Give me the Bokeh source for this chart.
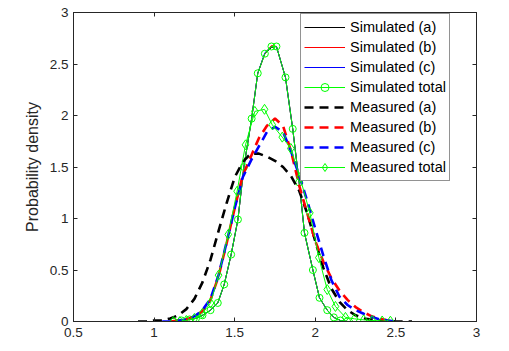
from bokeh.plotting import figure
from bokeh.models import (Range1d, FixedTicker, LinearAxis, Legend, LegendItem,
                          CustomJSTickFormatter)
from bokeh.embed import file_html
from bokeh.resources import INLINE

# ---------------- data ----------------
x_ticks = [0.5, 1, 1.5, 2, 2.5, 3]
y_ticks = [0, 0.5, 1, 1.5, 2, 2.5, 3]

sim_x = [1.12, 1.17, 1.22, 1.26, 1.30, 1.35, 1.395, 1.435, 1.478, 1.52, 1.557, 1.605,
         1.643, 1.687, 1.728, 1.759, 1.815, 1.86, 1.90, 1.933, 1.985, 2.026, 2.074,
         2.115, 2.156, 2.198]
sim_a = [0.00, 0.01, 0.02, 0.03, 0.06, 0.11, 0.18, 0.36, 0.65, 0.99, 1.50, 1.97,
         2.41, 2.60, 2.66, 2.67, 2.37, 1.87, 1.35, 0.86, 0.50, 0.23, 0.11, 0.04, 0.01, 0.00]
sim_b = [0.00, 0.01, 0.02, 0.03, 0.06, 0.11, 0.18, 0.36, 0.65, 0.99, 1.50, 1.97,
         2.41, 2.60, 2.68, 2.67, 2.37, 1.87, 1.35, 0.86, 0.50, 0.23, 0.11, 0.04, 0.01, 0.00]
sim_c = [0.00, 0.01, 0.02, 0.03, 0.06, 0.11, 0.18, 0.36, 0.65, 0.99, 1.50, 1.97,
         2.41, 2.61, 2.67, 2.67, 2.37, 1.87, 1.35, 0.86, 0.50, 0.23, 0.11, 0.04, 0.01, 0.00]
sim_total = [0.00, 0.01, 0.02, 0.03, 0.06, 0.11, 0.18, 0.36, 0.65, 0.99, 1.50, 1.97,
             2.41, 2.60, 2.67, 2.67, 2.37, 1.87, 1.35, 0.86, 0.50, 0.23, 0.11, 0.04, 0.01, 0.00]

meas_a_x = [0.90, 0.95, 1.00, 1.05, 1.10, 1.15, 1.20, 1.25, 1.30, 1.35, 1.40, 1.45,
            1.50, 1.55, 1.60, 1.65, 1.70, 1.75, 1.80, 1.85, 1.90, 1.95, 2.00, 2.05,
            2.10, 2.15, 2.20, 2.25, 2.30, 2.35, 2.40, 2.45, 2.50, 2.55, 2.60]
meas_a = [0.00, 0.00, 0.01, 0.01, 0.03, 0.06, 0.12, 0.22, 0.38, 0.60, 0.88, 1.15,
          1.40, 1.55, 1.63, 1.63, 1.60, 1.56, 1.50, 1.41, 1.27, 1.05, 0.78, 0.52,
          0.32, 0.19, 0.11, 0.06, 0.03, 0.02, 0.01, 0.01, 0.00, 0.00, 0.00]

meas_b_x = [1.10, 1.15, 1.20, 1.25, 1.30, 1.35, 1.40, 1.45, 1.50, 1.55, 1.60, 1.65,
            1.70, 1.75, 1.80, 1.85, 1.90, 1.95, 2.00, 2.05, 2.10, 2.15, 2.20, 2.25,
            2.30, 2.35, 2.40, 2.45, 2.50]
meas_b = [0.00, 0.01, 0.02, 0.05, 0.10, 0.21, 0.44, 0.76, 1.10, 1.42, 1.60, 1.78,
          1.90, 1.97, 1.90, 1.65, 1.32, 1.05, 0.78, 0.58, 0.42, 0.30, 0.21, 0.14,
          0.09, 0.05, 0.03, 0.01, 0.00]

meas_c_x = [1.05, 1.10, 1.15, 1.20, 1.25, 1.30, 1.35, 1.40, 1.45, 1.50, 1.55, 1.60,
            1.65, 1.70, 1.75, 1.80, 1.85, 1.90, 1.95, 2.00, 2.05, 2.10, 2.15, 2.20,
            2.25, 2.30, 2.35, 2.40, 2.45, 2.50]
meas_c = [0.00, 0.00, 0.01, 0.02, 0.05, 0.11, 0.22, 0.45, 0.77, 1.10, 1.40, 1.56,
          1.70, 1.84, 1.89, 1.84, 1.65, 1.42, 1.17, 0.90, 0.64, 0.40, 0.24, 0.16,
          0.11, 0.075, 0.045, 0.02, 0.01, 0.00]

meas_total_x = [1.12, 1.16, 1.20, 1.25, 1.30, 1.35, 1.40, 1.46, 1.515, 1.567, 1.625,
                1.685, 1.733, 1.795, 1.848, 1.905, 1.966, 2.022, 2.074, 2.125, 2.187,
                2.243, 2.30, 2.353, 2.415, 2.466]
meas_total = [0.00, 0.00, 0.01, 0.03, 0.08, 0.18, 0.45, 0.845, 1.265, 1.715, 2.04,
              2.06, 1.91, 1.79, 1.68, 1.40, 1.055, 0.62, 0.31, 0.146, 0.04,
              0.026, 0.016, 0.01, 0.005, 0.003]

labels = ["Simulated (a)", "Simulated (b)", "Simulated (c)", "Simulated total",
          "Measured (a)", "Measured (b)", "Measured (c)", "Measured total"]

# ---------------- figure ----------------
AX = "#262626"
FONT = "Liberation Sans"
GREEN = "#00ff00"

p = figure(width=509, height=351, output_backend="svg", toolbar_location=None,
           x_range=Range1d(0.5, 3), y_range=Range1d(0, 3),
           min_border_left=73, min_border_right=33, min_border_top=12, min_border_bottom=30,
           background_fill_color="white", border_fill_color="white")
p.grid.visible = False
p.outline_line_color = AX
p.outline_line_width = 1

fmt = CustomJSTickFormatter(code="return String(tick);")
blank = CustomJSTickFormatter(code="return '';")

for ax, ticks in ((p.xaxis[0], x_ticks), (p.yaxis[0], y_ticks)):
    ax.ticker = FixedTicker(ticks=ticks)
    ax.formatter = fmt
    ax.major_tick_in = 4
    ax.major_tick_out = 0
    ax.minor_tick_line_color = None
    ax.axis_line_color = AX
    ax.major_tick_line_color = AX
    ax.major_label_text_font = FONT
    ax.major_label_text_font_size = "13.5px"
    ax.major_label_text_color = AX

p.xaxis[0].major_label_standoff = 6
p.yaxis[0].major_label_standoff = 5
p.yaxis[0].axis_label = "Probability density"
p.yaxis[0].axis_label_text_font = FONT
p.yaxis[0].axis_label_text_font_size = "16px"
p.yaxis[0].axis_label_text_font_style = "normal"
p.yaxis[0].axis_label_text_color = AX
p.yaxis[0].axis_label_standoff = 6

# box axes (top and right) with inward ticks and no labels
for side, ticks in (("above", x_ticks), ("right", y_ticks)):
    ax = LinearAxis(ticker=FixedTicker(ticks=ticks), formatter=blank,
                    major_tick_in=4, major_tick_out=0,
                    minor_tick_line_color=None, axis_line_color=AX,
                    major_tick_line_color=AX, major_label_standoff=0)
    p.add_layout(ax, side)

# simulated
r_sa = p.line(sim_x, sim_a, line_color="black", line_width=1)
r_sb = p.line(sim_x, sim_b, line_color="red", line_width=1)
r_sc = p.line(sim_x, sim_c, line_color="blue", line_width=1)
r_st = p.line(sim_x, sim_total, line_color=GREEN, line_width=1)
r_stm = p.scatter(sim_x, sim_total, marker="circle", size=7, fill_color=None,
                  line_color=GREEN, line_width=1)

# measured
DASH = "9 6"
r_ma = p.line(meas_a_x, meas_a, line_color="black", line_width=2.6, line_dash=DASH)
r_mb = p.line(meas_b_x, meas_b, line_color="red", line_width=2.6, line_dash=DASH)
r_mc = p.line(meas_c_x, meas_c, line_color="blue", line_width=2.6, line_dash=DASH)
r_mt = p.line(meas_total_x, meas_total, line_color=GREEN, line_width=1)
r_mtm = p.scatter(meas_total_x, meas_total, marker="diamond", size=10, fill_color=None,
                  line_color=GREEN, line_width=1)

items = [
    LegendItem(label=labels[0], renderers=[r_sa]),
    LegendItem(label=labels[1], renderers=[r_sb]),
    LegendItem(label=labels[2], renderers=[r_sc]),
    LegendItem(label=labels[3], renderers=[r_st, r_stm]),
    LegendItem(label=labels[4], renderers=[r_ma]),
    LegendItem(label=labels[5], renderers=[r_mb]),
    LegendItem(label=labels[6], renderers=[r_mc]),
    LegendItem(label=labels[7], renderers=[r_mt, r_mtm]),
]
legend = Legend(items=items, location=(227, 140), padding=3, spacing=0, margin=0,
                glyph_width=41, glyph_height=20, label_height=20, label_standoff=5,
                label_text_font=FONT, label_text_font_size="14.5px",
                label_text_color="black",
                border_line_color=AX, border_line_width=1,
                background_fill_color="white", background_fill_alpha=1.0)
p.add_layout(legend, "center")

open("out.html", "w").write(file_html(p, INLINE))
